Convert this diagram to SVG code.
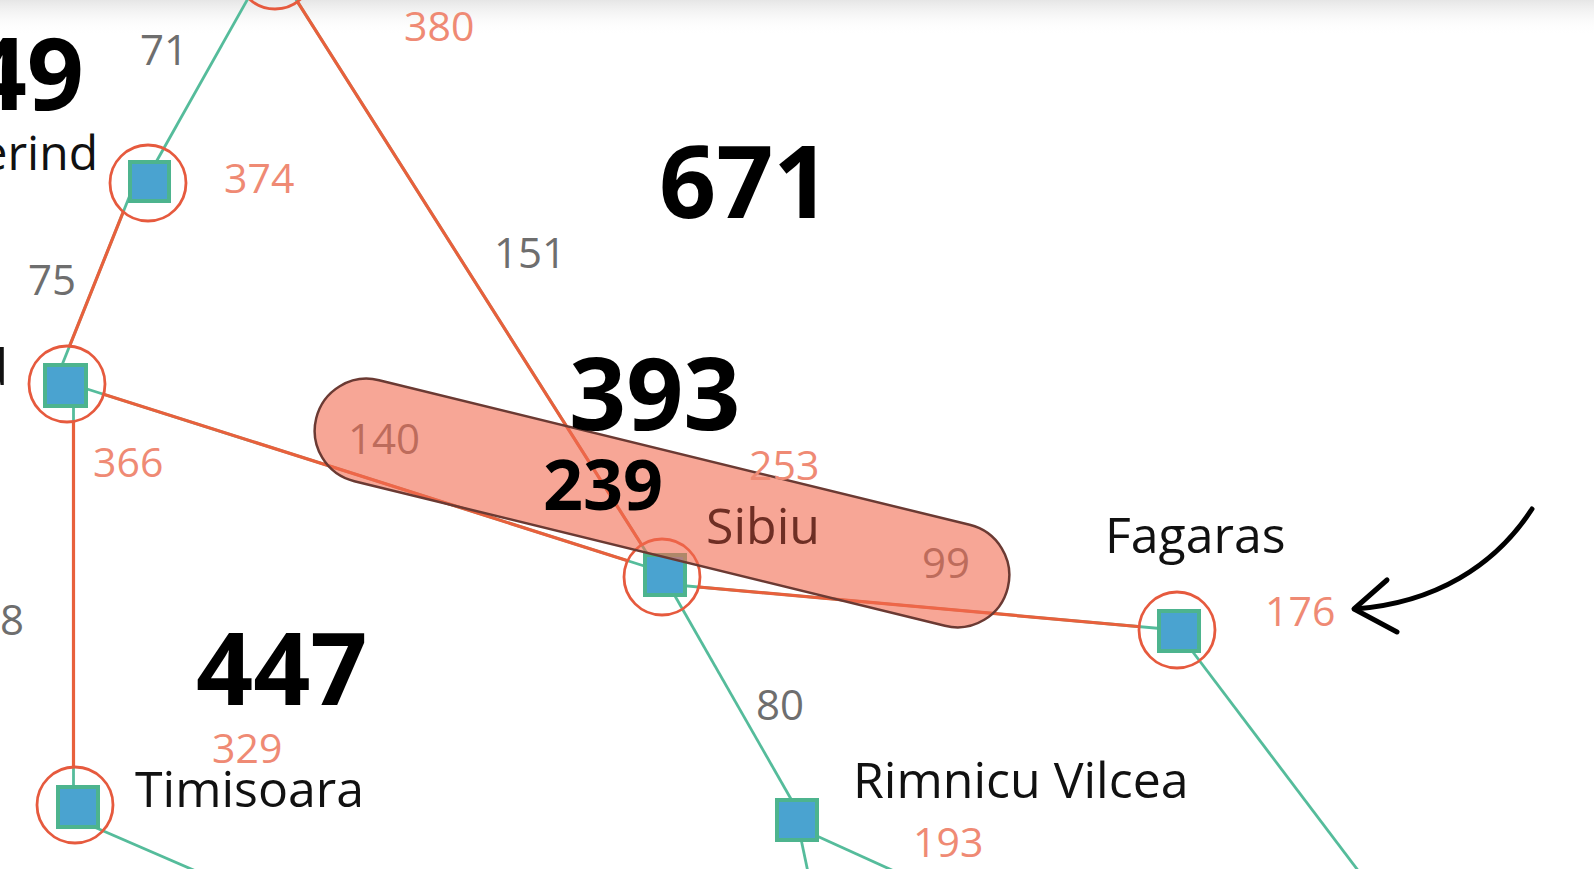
<svg xmlns="http://www.w3.org/2000/svg" width="1594" height="869" viewBox="0 0 1594 869">
<defs>
<linearGradient id="topShade" x1="0" y1="0" x2="0" y2="1">
<stop offset="0" stop-color="#e6e6e6"/>
<stop offset="1" stop-color="#ffffff" stop-opacity="0"/>
</linearGradient>
<mask id="ringMask" maskUnits="userSpaceOnUse" x="-100" y="-200" width="1800" height="1200">
<rect x="-100" y="-200" width="1800" height="1200" fill="#fff"/>
<circle cx="275" cy="-29" r="38" fill="#000"/>
<circle cx="148" cy="183" r="38" fill="#000"/>
<circle cx="67" cy="384" r="38" fill="#000"/>
<circle cx="75" cy="805" r="38" fill="#000"/>
<circle cx="662" cy="577" r="38" fill="#000"/>
<circle cx="1177" cy="630" r="38" fill="#000"/>
</mask>
</defs>
<style>
.g{stroke:#55bc9b;stroke-width:2.8;fill:none}
.o{stroke:#e8603c;stroke-width:3.2;fill:none}
.sq{fill:#4aa3d0;stroke:#4db48e;stroke-width:4}
.ring{fill:none;stroke:#e65a3e;stroke-width:2.8}
.city{font-family:'Open Sans','Noto Sans',sans-serif;font-size:50px;fill:#111}
.h{font-family:'Open Sans','Noto Sans',sans-serif;font-size:41px;fill:#ef8a74}
.w{font-family:'Open Sans','Noto Sans',sans-serif;font-size:42px;fill:#6e6e6e}
.f{font-family:'Open Sans','Noto Sans',sans-serif;font-weight:700;font-size:100px;fill:#000}
</style>
<rect x="0" y="0" width="1594" height="869" fill="#fff"/>
<rect x="0" y="0" width="1594" height="36" fill="url(#topShade)"/>

<g id="connectors">
<line class="g" x1="146" y1="180" x2="264" y2="-30"/>
<line class="g" x1="132" y1="190" x2="58" y2="375"/>
<line class="g" x1="65" y1="382" x2="660" y2="571"/>
<line class="g" x1="73.5" y1="384" x2="73.5" y2="807"/>
<line class="g" x1="278" y1="-29" x2="650" y2="558"/>
<line class="g" x1="665" y1="584" x2="1177" y2="630"/>
<line class="g" x1="663" y1="575" x2="803" y2="820"/>
<line class="g" x1="797" y1="827" x2="905" y2="876"/>
<line class="g" x1="797" y1="820" x2="809" y2="877"/>
<line class="g" x1="1177" y1="631" x2="1363" y2="877"/>
<line class="g" x1="78" y1="820" x2="205" y2="875"/>
<g mask="url(#ringMask)">
<line class="o" x1="132" y1="190" x2="58" y2="375"/>
<line class="o" x1="65" y1="382" x2="660" y2="571"/>
<line class="o" x1="73.5" y1="384" x2="73.5" y2="807"/>
<line class="o" x1="278" y1="-29" x2="650" y2="558"/>
<line class="o" x1="665" y1="584" x2="1177" y2="630"/>
</g>
<text class="w" x="140" y="65">71</text>
<text class="w" x="28" y="295">75</text>
<text class="w" x="494" y="268">151</text>
<text class="w" x="756" y="720">80</text>
<text class="w" x="24" y="635" text-anchor="end">118</text>
<text class="w" x="348" y="454">140</text>
<text class="w" x="922" y="578">99</text>
</g>

<g id="node-oradea">
<rect class="sq" x="255" y="-51" width="40" height="40"/>
<circle class="ring" cx="275" cy="-29" r="38"/>
<text class="h" x="404" y="41">380</text>
</g>
<g id="node-zerind">
<rect class="sq" x="130" y="162" width="39" height="39"/>
<circle class="ring" cx="148" cy="183" r="38"/>
<text class="city" x="98" y="170" text-anchor="end" style="font-size:48px">Zerind</text>
<text class="h" x="224" y="193">374</text>
</g>
<g id="node-arad">
<rect class="sq" x="45" y="365" width="41" height="41"/>
<circle class="ring" cx="67" cy="384" r="38"/>
<text class="city" x="8" y="385" text-anchor="end">Arad</text>
<text class="h" x="93" y="477">366</text>
</g>
<g id="node-timisoara">
<rect class="sq" x="58" y="787" width="40" height="40"/>
<circle class="ring" cx="75" cy="805" r="38"/>
<text class="city" x="135" y="807">Timisoara</text>
<text class="h" x="212" y="763">329</text>
</g>
<g id="node-sibiu">
<rect class="sq" x="645" y="555" width="40" height="40"/>
<circle class="ring" cx="662" cy="577" r="38"/>
</g>
<g id="node-fagaras">
<rect class="sq" x="1159" y="611" width="40" height="40"/>
<circle class="ring" cx="1177" cy="630" r="38"/>
<text class="city" x="1105" y="553">Fagaras</text>
<text class="h" x="1265" y="626">176</text>
</g>
<g id="node-rimnicu">
<rect class="sq" x="777" y="800" width="40" height="40"/>
<text class="city" x="853" y="798">Rimnicu Vilcea</text>
<text class="h" x="913" y="857">193</text>
</g>

<g id="highlight">
<rect x="306" y="451" width="712" height="104" rx="52" ry="52" transform="rotate(13.76 662 503)" fill="#f26b50" fill-opacity="0.6" stroke="#6b3a33" stroke-width="2.5"/>
<text class="city" x="706" y="544" style="fill:#6e2e24">Sibiu</text>
<text class="h" x="749" y="480">253</text>
</g>

<g id="f-values">
<text class="f" x="84" y="110" text-anchor="end">449</text>
<text class="f" x="659" y="218">671</text>
<text class="f" x="569" y="430">393</text>
<text class="f" x="196" y="705">447</text>
<text class="f" x="543" y="510" style="font-size:70px">239</text>
</g>

<g id="arrow" fill="none" stroke="#000" stroke-width="5" stroke-linecap="round" stroke-linejoin="round">
<path d="M1532,509 C1495,566 1435,603 1355,609"/>
<path d="M1387,580 L1354,609 L1397,632"/>
</g>
</svg>
